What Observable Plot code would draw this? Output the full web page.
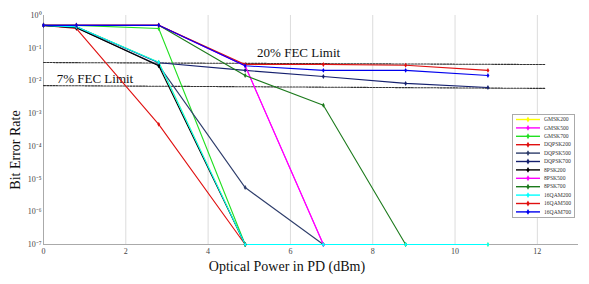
<!DOCTYPE html>
<html><head><meta charset="utf-8">
<script src="https://cdn.jsdelivr.net/npm/d3@7"></script>
<script src="https://cdn.jsdelivr.net/npm/@observablehq/plot@0.6"></script>
<style>
body{margin:0;background:#fff;}
#wrap{position:relative;width:589px;height:284px;font-family:"Liberation Serif","Times New Roman",serif;}
#wrap svg, #wrap svg text{font-family:"Liberation Serif","Times New Roman",serif !important;}
#legend{position:absolute;left:512px;top:114px;width:63px;height:104px;border:1px solid #aaa;background:#fff;box-sizing:border-box;}
.ytitle{position:absolute;left:16px;top:150px;transform:translate(-50%,-50%) rotate(-90deg);font-size:14px;white-space:nowrap;color:#111;}
.xtitle{position:absolute;left:287px;top:267px;transform:translate(-50%,-50%);font-size:14px;white-space:nowrap;color:#111;}
</style></head><body><div id="wrap"></div>
<script>
const powers = [0, 0.8, 2.8, 4.9, 6.8, 8.8, 10.8];
const seriesNames = ["GMSK200","GMSK500","GMSK700","DQPSK200","DQPSK500","DQPSK700","8PSK200","8PSK500","8PSK700","16QAM200","16QAM500","16QAM700"];
const seriesColors = ["#ffff00","#ff00ff","#22e022","#e01010","#2e3d6b","#15206e","#000000","#ff00ff","#1c7a1c","#00ffff","#e01010","#0000ee"];
const berGMSK200  = [0.5, 0.45, 0.037, 1e-7, 1e-7, 1e-7, 1e-7];
const berGMSK500  = [0.5, 0.5, 0.5, 0.029, 1e-7];
const berGMSK700  = [0.5, 0.5, 0.4, 1e-7];
const berDQPSK200 = [0.5, 0.4, 4.7e-4, 1e-7];
const berDQPSK500 = [0.5, 0.42, 0.03, 5.5e-6, 1e-7];
const berDQPSK700 = [0.5, 0.45, 0.036, 0.021, 0.0137, 0.0084, 0.0063];
const ber8PSK200  = [0.5, 0.42, 0.029, 1e-7];
const ber8PSK500  = [0.5, 0.5, 0.5, 0.029, 1e-7];
const ber8PSK700  = [0.5, 0.5, 0.5, 0.0147, 0.0018, 1e-7];
const ber16QAM200 = [0.5, 0.45, 0.037, 1e-7, 1e-7, 1e-7, 1e-7];
const ber16QAM500 = [0.5, 0.5, 0.5, 0.032, 0.032, 0.03, 0.021];
const ber16QAM700 = [0.5, 0.5, 0.5, 0.029, 0.021, 0.021, 0.0147];
const seriesValues = [berGMSK200,berGMSK500,berGMSK700,berDQPSK200,berDQPSK500,berDQPSK700,ber8PSK200,ber8PSK500,ber8PSK700,ber16QAM200,ber16QAM500,ber16QAM700];
const xTicks = [0, 2, 4, 6, 8, 10, 12];
const gridX = [2, 4, 6, 8, 10, 12];
const yTicks = [1e-7, 1e-6, 1e-5, 1e-4, 1e-3, 1e-2, 1e-1, 1];
const yTickLabels = ["10⁻⁷","10⁻⁶","10⁻⁵","10⁻⁴","10⁻³","10⁻²","10⁻¹","10⁰"];
const fecNames = ["20% FEC Limit", "7% FEC Limit"];
const fecX = [0, 12.2];
const fecY = [[0.0365, 0.0317], [0.0072, 0.0059]];
const fecLabelX = [6.2, 0.32];
const fecLabelY = [0.074, 0.0119];

const rows = [];
seriesNames.forEach((s, i) => seriesValues[i].forEach((v, j) => rows.push({series: s, x: powers[j], y: v})));
const fecRows = [];
fecNames.forEach((n, i) => fecX.forEach((x, j) => fecRows.push({name: n, x, y: fecY[i][j]})));
const fecLabels = fecNames.map((n, i) => ({name: n, x: fecLabelX[i], y: fecLabelY[i], anchor: i === 0 ? "middle" : "start"}));

const chart = Plot.plot({
  width: 589, height: 284,
  marginLeft: 43, marginRight: 11, marginTop: 15, marginBottom: 40,
  style: {fontFamily: "Liberation Serif, serif", fontSize: "8px", color: "#444", background: "#fff"},
  x: {domain: [0, 13]},
  y: {type: "log", domain: [1e-7, 1]},
  color: {domain: seriesNames, range: seriesColors},
  marks: [
    Plot.ruleX(gridX, {stroke: "#dcdcdc", strokeWidth: 1}),
    Plot.ruleX([0], {stroke: "#aaa"}),
    Plot.ruleY([1e-7], {stroke: "#aaa"}),
    Plot.axisX({ticks: xTicks, tickSize: 0, tickPadding: 4, label: null, tickFormat: d => String(d)}),
    Plot.axisY({ticks: yTicks, tickSize: 0, tickPadding: 2, label: null, tickFormat: d => yTickLabels[yTicks.indexOf(d)]}),
    Plot.line(fecRows, {x: "x", y: "y", z: "name", stroke: "#333", strokeWidth: 1.1, strokeDasharray: "2,1.2"}),
    Plot.text(fecLabels.filter(d => d.anchor === "middle"), {x: "x", y: "y", text: "name", textAnchor: "middle", fontSize: 13, fill: "#111"}),
    Plot.text(fecLabels.filter(d => d.anchor === "start"), {x: "x", y: "y", text: "name", textAnchor: "start", fontSize: 13, fill: "#111"}),
    Plot.line(rows, {x: "x", y: "y", z: "series", stroke: "series", strokeWidth: 1.1}),
    Plot.dot(rows, {x: "x", y: "y", fill: "series", symbol: "diamond", r: 1.5})
  ]
});
const wrap = document.getElementById("wrap");
wrap.appendChild(chart);

const yt = document.createElement("div"); yt.className = "ytitle"; yt.textContent = "Bit Error Rate"; wrap.appendChild(yt);
const xt = document.createElement("div"); xt.className = "xtitle"; xt.textContent = "Optical Power in PD (dBm)"; wrap.appendChild(xt);

const leg = d3.select(wrap).append("div").attr("id", "legend");
const lsvg = leg.append("svg").attr("width", 61).attr("height", 102).style("display", "block");
seriesNames.forEach((s, i) => {
  const cy = 4.5 + i * 8.4;
  const g = lsvg.append("g").attr("transform", `translate(0,${cy})`);
  g.append("line").attr("x1", 3).attr("x2", 27).attr("stroke", seriesColors[i]).attr("stroke-width", 1.4);
  g.append("path").attr("d", d3.symbol(d3.symbolDiamond, 10)()).attr("transform", "translate(15,0)").attr("fill", seriesColors[i]);
  g.append("text").attr("x", 31).attr("dy", "0.32em").attr("font-size", 5.6).attr("fill", "#333").text(s);
});
</script></body></html>
